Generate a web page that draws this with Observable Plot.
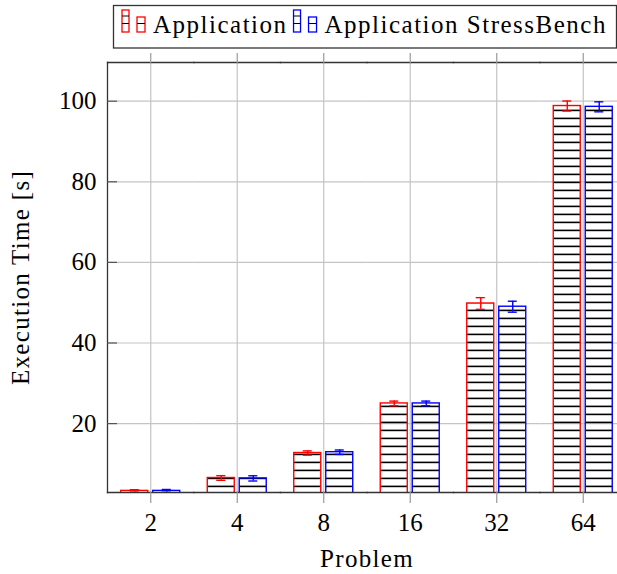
<!DOCTYPE html>
<html>
<head>
<meta charset="utf-8">
<script src="https://cdn.jsdelivr.net/npm/d3@7"></script>
<script src="https://cdn.jsdelivr.net/npm/@observablehq/plot@0.6"></script>
<style>
  html, body { margin: 0; padding: 0; background: #fff; }
  #wrap { width: 617px; height: 574px; overflow: hidden; position: relative; background: #fff; }
  #legend { display: block; }
  #chart svg { max-width: none; display: block; }
  [aria-label="y-axis label"] text, [aria-label="fx-axis label"] text { letter-spacing: 1.3px; }
</style>
</head>
<body>
<div id="wrap">
  <svg id="legend" width="617" height="50"></svg>
  <div id="chart"></div>
</div>
<script>
// Execution time per problem size, with error bars
const problems = ["2", "4", "8", "16", "32", "64"];
const seriesNames = ["Application", "Application StressBench"];
const seriesColors = ["#ff0000", "#0000ff"];
const appTime = [3.3, 6.5, 12.7, 25.0, 49.8, 98.8];
const appErr = [0.3, 0.58, 0.53, 0.58, 1.45, 1.24];
const benchTime = [3.3, 6.4, 12.9, 25.0, 49.0, 98.6];
const benchErr = [0.35, 0.65, 0.55, 0.58, 1.36, 1.24];
const yTicks = [20, 40, 60, 80, 100];
const yDomain = [2.9, 109.6];

const FONT = '"Liberation Serif", "Times New Roman", serif';

const rows = problems.flatMap((p, i) => [
  {problem: p, series: seriesNames[0], time: appTime[i], err: appErr[i]},
  {problem: p, series: seriesNames[1], time: benchTime[i], err: benchErr[i]}
]);
const lo = d => d.time - d.err;
const hi = d => d.time + d.err;

const chart = Plot.plot({
  width: 627,
  height: 524,
  marginLeft: 107,
  marginRight: 1,
  marginTop: 12,
  marginBottom: 82,
  style: {fontFamily: FONT, fontSize: "25px", color: "black", background: "transparent"},
  fx: {domain: problems, padding: 0, round: false},
  x: {domain: seriesNames, paddingInner: 0.156, paddingOuter: 0.43, round: false, axis: null},
  y: {domain: yDomain},
  color: {domain: seriesNames, range: seriesColors},
  marks: [
    Plot.gridY(yTicks, {stroke: "#c4c4c4", strokeOpacity: 1, strokeWidth: 1.2}),
    Plot.gridFx({stroke: "#c4c4c4", strokeOpacity: 1, strokeWidth: 1.2}),
    Plot.barY(rows, {fx: "problem", x: "series", y: "time", stroke: "series", strokeWidth: 1.4, fill: "url(#hlines)", clip: true}),
    Plot.ruleX(rows, {fx: "problem", x: "series", y1: lo, y2: hi, stroke: "series", strokeWidth: 1.4}),
    Plot.tickY(rows, {fx: "problem", x: "series", y: lo, stroke: "series", strokeWidth: 1.4, insetLeft: 9, insetRight: 9}),
    Plot.tickY(rows, {fx: "problem", x: "series", y: hi, stroke: "series", strokeWidth: 1.4, insetLeft: 9, insetRight: 9}),
    Plot.frame({anchor: "top", stroke: "#333", strokeWidth: 1.3}),
    Plot.frame({anchor: "bottom", stroke: "#333", strokeWidth: 1.3}),
    Plot.frame({anchor: "left", facetAnchor: "left", stroke: "#333", strokeWidth: 1.3}),
    Plot.frame({anchor: "right", facetAnchor: "right", stroke: "#333", strokeWidth: 1.3}),
    Plot.axisY(yTicks, {
      tickSize: -10, tickPadding: 21, stroke: "#555", strokeWidth: 1.2, fill: "black", fontSize: 25,
      label: "Execution Time [s]", labelAnchor: "center", labelOffset: 96.5, labelArrow: "none"
    }),
    Plot.axisFx({
      anchor: "bottom", tickSize: 11, tickPadding: 10, stroke: "#999", strokeWidth: 1.2, fill: "black", fontSize: 25,
      label: "Problem", labelAnchor: "center", labelOffset: 74, labelArrow: "none"
    }),
    Plot.axisFx({anchor: "top", tickSize: 10, stroke: "#999", strokeWidth: 1.2, tickFormat: () => "", label: null})
  ]
});

// Horizontal-lines hatch used as the bar fill
const defs = d3.select(chart).insert("defs", ":first-child");
const pat = defs.append("pattern")
  .attr("id", "hlines")
  .attr("patternUnits", "userSpaceOnUse")
  .attr("width", 8)
  .attr("height", 8);
pat.append("line")
  .attr("x1", 0).attr("x2", 8)
  .attr("y1", 4.4).attr("y2", 4.4)
  .attr("stroke", "black").attr("stroke-width", 1.6);

document.getElementById("chart").appendChild(chart);

// Legend: boxed row of hatched swatches and series names
const legend = d3.select("#legend");
legend.append("rect")
  .attr("x", 113.5).attr("y", 5.5).attr("width", 503).attr("height", 42.5)
  .attr("fill", "white").attr("stroke", "#333").attr("stroke-width", 1.3);
let cx = 122;
seriesNames.forEach((name, i) => {
  const c = seriesColors[i];
  const g = legend.append("g").attr("transform", `translate(${cx},10)`);
  g.append("rect").attr("x", 0).attr("y", 0).attr("width", 7).attr("height", 22)
    .attr("fill", "none").attr("stroke", c).attr("stroke-width", 1.3);
  g.append("rect").attr("x", 15).attr("y", 7).attr("width", 8).attr("height", 15)
    .attr("fill", "none").attr("stroke", c).attr("stroke-width", 1.3);
  [[0, 7, 6], [0, 7, 13.5], [15, 23, 13.5]].forEach(([a, b, y]) =>
    g.append("line").attr("x1", a).attr("x2", b).attr("y1", y).attr("y2", y)
      .attr("stroke", "black").attr("stroke-width", 1));
  cx += 31;
  const t = legend.append("text")
    .attr("x", cx).attr("y", 33)
    .attr("font-family", FONT).attr("font-size", 25)
    .attr("letter-spacing", "1.5px")
    .attr("fill", "black")
    .text(name);
  cx += t.node().getComputedTextLength() + 6;
});
</script>
</body>
</html>
